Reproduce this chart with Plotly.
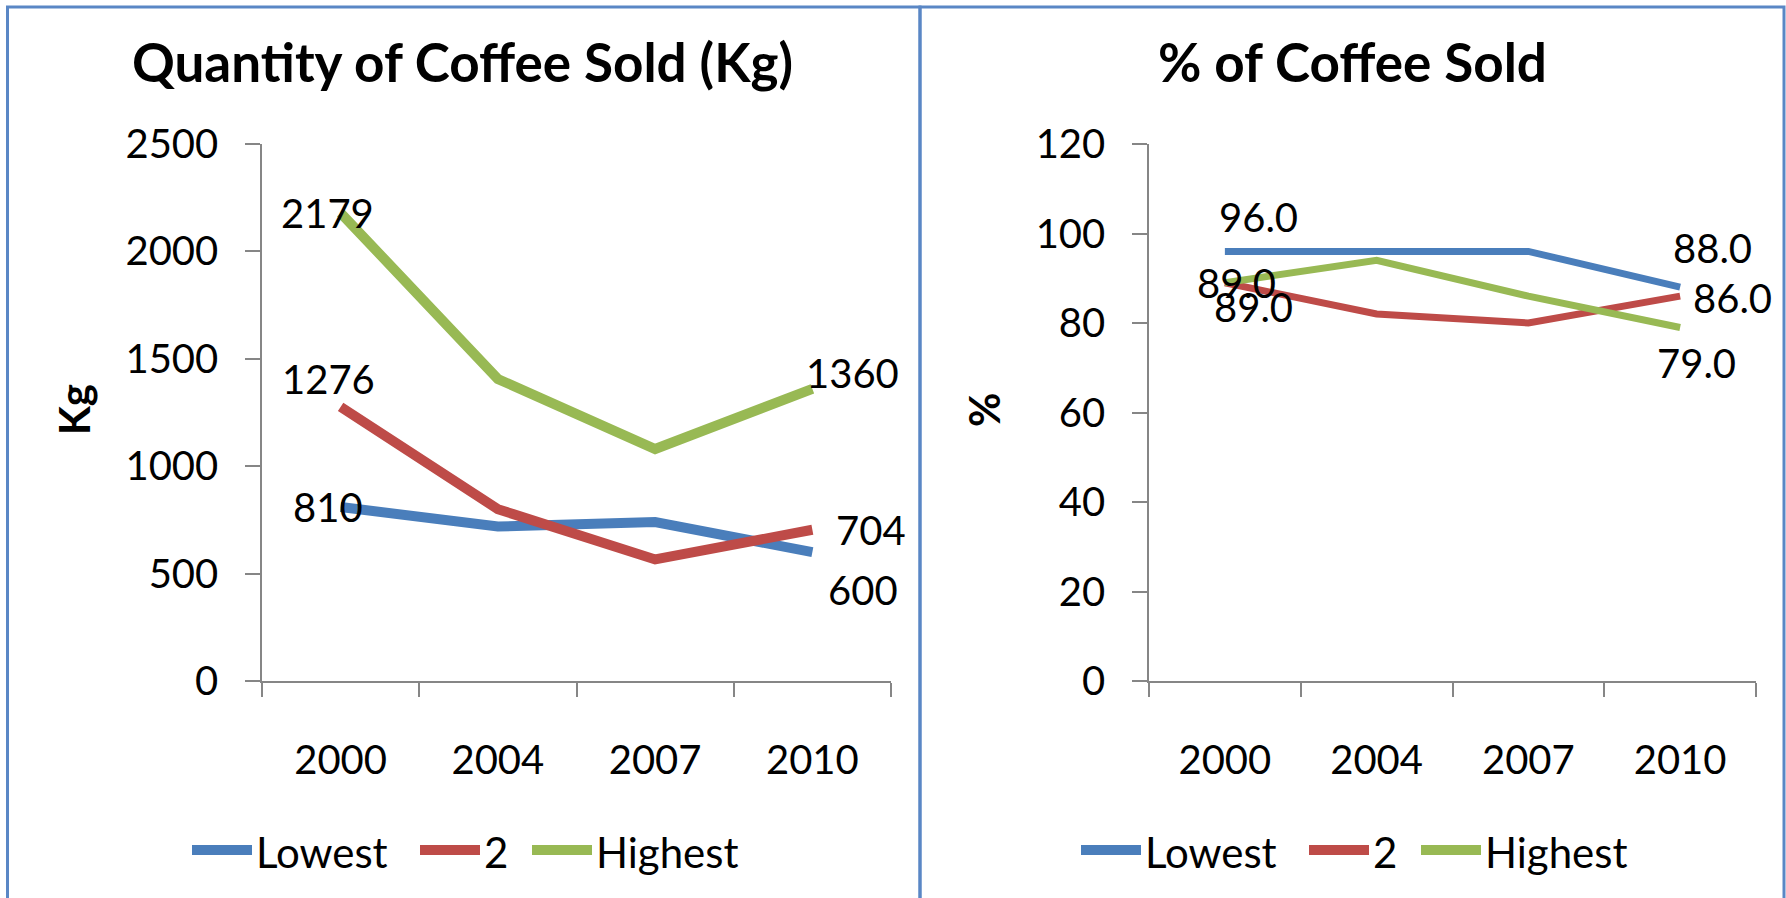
import plotly.graph_objects as go
from plotly.subplots import make_subplots

YEARS = ["2000", "2004", "2007", "2010"]
SERIES = ["Lowest", "2", "Highest"]
COLORS = ["#4A7EBB", "#BE4B48", "#98B954"]

KG_LOWEST = [810, 719, 740, 600]
KG_MID = [1276, 800, 566, 704]
KG_HIGHEST = [2179, 1406, 1080, 1360]

PCT_LOWEST = [96.0, 96.0, 96.0, 88.0]
PCT_MID = [89.0, 82.0, 80.0, 86.0]
PCT_HIGHEST = [89.0, 94.0, 86.0, 79.0]

KG_TICKS = [0, 500, 1000, 1500, 2000, 2500]
PCT_TICKS = [0, 20, 40, 60, 80, 100, 120]

W, H = 1786, 898
FONT = "Lato, 'Open Sans', sans-serif"
AXIS_GREY = "#868686"
BORDER = "#5A87C5"

# label offsets in px (first point, last point) -- excel put them by hand-ish
KG_OFFSETS = [((-13, 0), (51, -38)), ((-12, 28), (59, 0)), ((-13, 0), (40, 16))]
PCT_OFFSETS = [((34, 34), (32, 39)), ((29, -24), (52, -2)), ((12, 0), (16, -36))]

# excel-style legend: long swatches, drawn by hand under each panel
LEGEND_ITEM_X = [-271, -43, 69]   # swatch start, relative to panel centre
SWATCH_LEN = 60
LEGEND_Y = 850


def px_x(p):
    return p / W


def px_y(p):
    return 1 - p / H


fig = make_subplots(rows=1, cols=2)

panels = [
    (1, [KG_LOWEST, KG_MID, KG_HIGHEST], 10, KG_OFFSETS, "{:.0f}", 463),
    (2, [PCT_LOWEST, PCT_MID, PCT_HIGHEST], 7, PCT_OFFSETS, "{:.1f}", 1352),
]

annotations = []
shapes = []
for col, data, lw, offsets, fmt, centre in panels:
    xref = "x" if col == 1 else "x2"
    yref = "y" if col == 1 else "y2"
    for name, vals, color, offs, lx in zip(SERIES, data, COLORS, offsets, LEGEND_ITEM_X):
        fig.add_trace(
            go.Scatter(
                x=YEARS, y=vals, name=name, mode="lines",
                line=dict(color=color, width=lw),
                showlegend=False, hoverinfo="x+y+name",
            ),
            row=1, col=col,
        )
        # category axis -> annotation x is the category index
        for idx, (dx, dy) in zip([0, len(vals) - 1], offs):
            annotations.append(dict(
                x=idx, y=vals[idx], xref=xref, yref=yref,
                text=fmt.format(vals[idx]), showarrow=False,
                xanchor="center", yanchor="middle",
                xshift=dx, yshift=dy,
                font=dict(family=FONT, size=40, color="black"),
            ))
        # legend entry
        x0 = centre + lx
        shapes.append(dict(
            type="line", xref="paper", yref="paper",
            x0=px_x(x0), x1=px_x(x0 + SWATCH_LEN),
            y0=px_y(LEGEND_Y), y1=px_y(LEGEND_Y),
            line=dict(color=color, width=10),
        ))
        annotations.append(dict(
            x=px_x(x0 + SWATCH_LEN + 2), y=px_y(LEGEND_Y + 2),
            xref="paper", yref="paper", text=name, showarrow=False,
            xanchor="left", yanchor="middle",
            font=dict(family=FONT, size=42, color="black"),
        ))


def paper_text(x, y, text, size, angle=0):
    return dict(x=px_x(x), y=px_y(y), xref="paper", yref="paper",
                text=text, showarrow=False, textangle=angle,
                xanchor="center", yanchor="middle",
                font=dict(family=FONT, size=size, color="black"))


annotations += [
    paper_text(463, 61, "<b>Quantity of Coffee Sold (Kg)</b>", 53),
    paper_text(1352, 61, "<b>% of Coffee Sold</b>", 53),
    paper_text(74, 410, "<b>Kg</b>", 42, -90),
    paper_text(984, 410, "<b>%</b>", 42, -90),
]

xcommon = dict(
    type="category", range=[-0.5, 3.5], tickson="boundaries",
    showline=True, linecolor=AXIS_GREY, linewidth=1.5,
    ticks="outside", ticklen=14, tickwidth=1.5, tickcolor=AXIS_GREY,
    showgrid=False, zeroline=False, ticklabelstandoff=43,
    tickfont=dict(family=FONT, size=40, color="black"),
)
ycommon = dict(
    showline=True, linecolor=AXIS_GREY, linewidth=1.5,
    ticks="outside", ticklen=15, tickwidth=1.5, tickcolor=AXIS_GREY,
    showgrid=False, zeroline=False, ticklabelstandoff=19,
    tickfont=dict(family=FONT, size=40, color="black"),
)

fig.update_xaxes(**xcommon)
fig.update_yaxes(**ycommon)
fig.update_xaxes(domain=[px_x(262), px_x(891)], row=1, col=1)
fig.update_xaxes(domain=[px_x(1149), px_x(1756)], row=1, col=2)
fig.update_yaxes(domain=[px_y(681), px_y(144)], range=[0, 2500],
                 tickvals=KG_TICKS, row=1, col=1)
fig.update_yaxes(domain=[px_y(681), px_y(144)], range=[0, 120],
                 tickvals=PCT_TICKS, row=1, col=2)

# chart borders
shapes += [
    dict(type="rect", xref="paper", yref="paper",
         x0=px_x(7.5), x1=px_x(920), y0=-0.02, y1=px_y(7),
         line=dict(color=BORDER, width=3), fillcolor="rgba(0,0,0,0)"),
    dict(type="rect", xref="paper", yref="paper",
         x0=px_x(920), x1=px_x(1784), y0=-0.02, y1=px_y(7),
         line=dict(color=BORDER, width=3), fillcolor="rgba(0,0,0,0)"),
]

fig.update_layout(
    width=W, height=H,
    margin=dict(l=0, r=0, t=0, b=0, autoexpand=False),
    paper_bgcolor="white", plot_bgcolor="white",
    showlegend=False,
    annotations=annotations,
    shapes=shapes,
)

fig.write_html("out.html", config={"displayModeBar": False},
               post_script="document.body.style.margin = '0';")
